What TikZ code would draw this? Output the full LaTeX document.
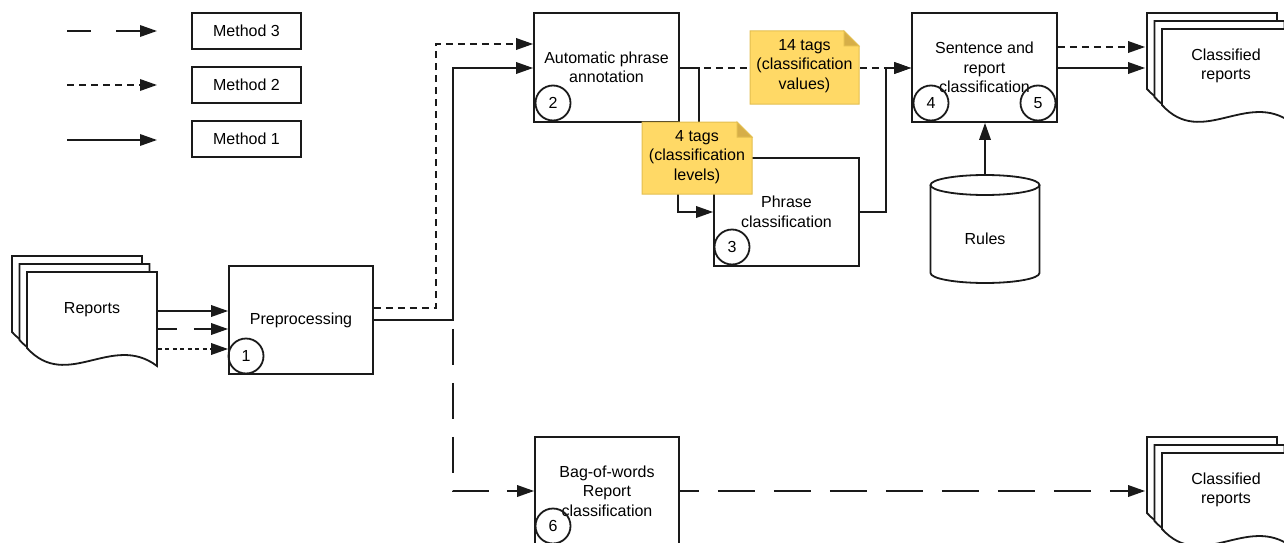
\documentclass[tikz,border=0pt]{standalone}
\usepackage{fontspec}
\setmainfont{Liberation Sans}
\usetikzlibrary{arrows.meta,calc}
\definecolor{ink}{HTML}{1A1A1A}
\definecolor{noteyel}{HTML}{FFD966}
\definecolor{noteedge}{HTML}{E3BE4F}
\definecolor{notefold}{HTML}{D6AE48}
\newcommand\repsheet[2]{\begin{scope}[shift={(#1,#2)}]\filldraw[sheet] (0,0) -- (130,0) -- (130,94) .. controls (85,60) and (40,120) .. (0,76) -- cycle;\end{scope}}
\begin{document}
\begin{tikzpicture}[x=1pt,y=-1pt,
  line width=1.8pt, draw=ink,
  font=\fontsize{16}{19.5}\selectfont,
  tip/.style={-{Triangle[length=17pt,width=11.5pt]}, draw=ink},
  m1/.style={tip},
  m2/.style={tip, dash pattern=on 7pt off 5pt},
  m3/.style={tip, dash pattern=on 37pt off 19pt},
  box/.style={draw=ink, fill=white, minimum width=145pt, minimum height=108pt, align=center, inner sep=0pt},
  legbox/.style={draw=ink, fill=white, minimum width=109pt, minimum height=36pt, inner sep=0pt},
  circ/.style={draw=ink, circle, minimum size=35pt, inner sep=0pt},
  sheet/.style={draw=ink, fill=white, line width=1.8pt},
  notebox/.style={fill=noteyel, draw=noteedge, line width=1pt},
  notefoldst/.style={fill=notefold, draw=noteedge, line width=1pt},
  txt/.style={align=center, inner sep=0pt}
]
\useasboundingbox (0,0) rectangle (1284,543);

% legend
\node[legbox] (L3) at (246.5,31) {Method 3};
\node[legbox] (L2) at (246.5,85) {Method 2};
\node[legbox] (L1) at (246.5,139) {Method 1};
\coordinate (l3s) at (67,31);  \coordinate (l3e) at (157,31);
\coordinate (l2s) at (67,85);  \coordinate (l2e) at (157,85);
\coordinate (l1s) at (67,140); \coordinate (l1e) at (157,140);
\draw[tip, dash pattern=on 24pt off 25pt on 100pt] (l3s) -- (l3e);
\draw[m2] (l2s) -- (l2e);
\draw[m1] (l1s) -- (l1e);

% reports stack
\repsheet{12}{256}
\repsheet{19.5}{264}
\repsheet{27}{272}
\node[txt, minimum width=130pt, minimum height=76pt] (rep) at (92,310) {Reports};

% process boxes
\node[box, minimum width=144pt] (pre) at (301,320) {Preprocessing};
\node[box, minimum height=109pt] (apa) at (606.5,67.5) {Automatic phrase\\annotation};
\node[box] (phr) at (786.5,212) {Phrase\\classification};
\node[box, minimum height=109pt] (src) at (984.5,67.5) {Sentence and\\report\\classification};
\node[box, minimum width=144pt] (bow) at (607,491) {Bag-of-words\\Report\\classification};

% rules cylinder
\filldraw[draw=ink, fill=white] (930.5,185) -- (930.5,273) arc[start angle=180, end angle=0, x radius=54.5, y radius=10] -- (1039.5,185);
\draw[draw=ink, fill=white] (985,185) ellipse[x radius=54.5, y radius=10];
\node[txt, minimum width=109pt, minimum height=128pt] (rules) at (985,239) {Rules};

% classified reports stacks
\repsheet{1147}{13}
\repsheet{1154.5}{21}
\repsheet{1162}{29}
\node[txt, minimum width=160pt] (cr1) at (1226,66) {Classified\\reports};
\repsheet{1147}{437}
\repsheet{1154.5}{445}
\repsheet{1162}{453}
\node[txt, minimum width=160pt] (cr2) at (1226,490) {Classified\\reports};

% connectors: reports -> preprocessing
\draw[m1] (rep.east |- 0,311) -- (pre.west |- 0,311);
\draw[tip, dash pattern=on 19pt off 17pt on 100pt] (rep.east |- 0,329) -- (pre.west |- 0,329);
\draw[tip, dash pattern=on 4pt off 3.5pt] (rep.east |- 0,349) -- (pre.west |- 0,349);

% preprocessing -> apa / bow
\draw[m2] (pre.east |- 0,308) -- (436,308) -- (436,44) -- (apa.west |- 0,44);
\draw[m1] (pre.east) -- (453,320) -- (453,68) -- (apa.west |- 0,68);
\draw[tip, dash pattern=on 36pt off 18pt, dash phase=20pt] (pre.east) -- (453,320) -- (453,491) -- (bow.west);

% apa -> src, apa -> phr -> src
\draw[m2] (apa.east |- 0,68) -- (src.west |- 0,68);
\draw[m1] (apa.east |- 0,68) -- (699,68) -- (699,160) -- (678,160) -- (678,212) -- (phr.west);
\draw[m1] (phr.east) -- (886,212) -- (886,68) -- (src.west |- 0,68);

% rules -> src
\draw[m1] (rules.north) -- (rules.north |- src.south);

% src -> classified
\draw[m2] (src.east |- 0,47) -- (cr1.west |- 0,47);
\draw[m1] (src.east |- 0,68) -- (cr1.west |- 0,68);

% bow -> classified
\draw[m3, dash phase=18pt] (bow.east) -- (cr2.west |- bow.east);

% notes
\path[notebox] (750,31) -- (844,31) -- (859,46) -- (859,104) -- (750,104) -- cycle;
\path[notefoldst] (844,31) -- (859,46) -- (844,46) -- cycle;
\node[txt] (n14) at (804.5,66) {14 tags\\(classification\\values)};
\path[notebox] (642,122) -- (737,122) -- (752,137) -- (752,194) -- (642,194) -- cycle;
\path[notefoldst] (737,122) -- (752,137) -- (737,137) -- cycle;
\node[txt] (n4) at (697,157) {4 tags\\(classification\\levels)};

% step numbers
\node[circ] (c1) at (246,356) {1};
\node[circ] (c2) at (553,103) {2};
\node[circ] (c3) at (732,247) {3};
\node[circ] (c4) at (931,103) {4};
\node[circ] (c5) at (1038,103) {5};
\node[circ] (c6) at (553,526) {6};
\end{tikzpicture}
\end{document}
